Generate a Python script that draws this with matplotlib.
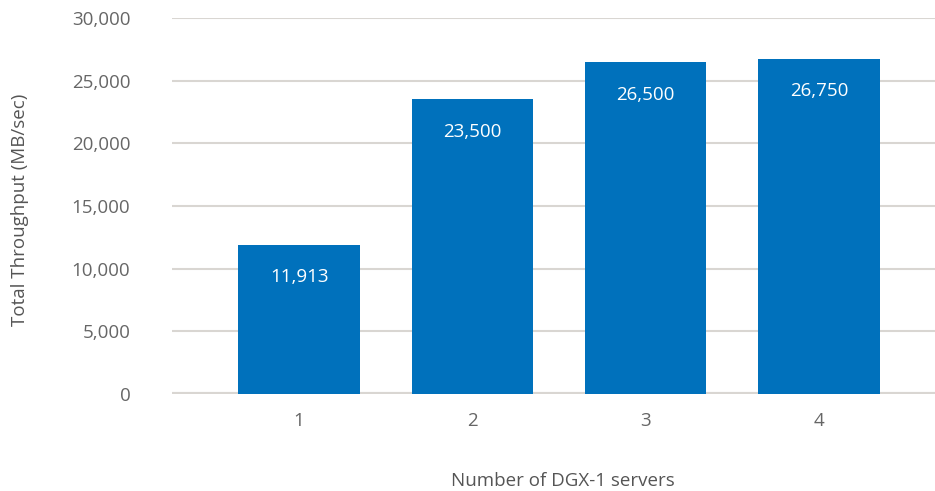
import matplotlib
matplotlib.use('Agg')
import matplotlib.pyplot as plt

# data
servers = ['1', '2', '3', '4']
throughput = [11913, 23500, 26500, 26750]
bar_labels = ['11,913', '23,500', '26,500', '26,750']
y_ticks = [0, 5000, 10000, 15000, 20000, 25000, 30000]
y_tick_labels = ['0', '5,000', '10,000', '15,000', '20,000', '25,000', '30,000']

plt.rcParams['font.family'] = ['Open Sans', 'DejaVu Sans']

fig = plt.figure(figsize=(9.35, 4.91), dpi=100)
ax = fig.add_axes([172 / 935, 1 - 394 / 491, 1 - 172 / 935, (394 - 18) / 491])

x = range(len(servers))
bars = ax.bar(x, throughput, width=0.70, color='#0071BC', zorder=3)

for b, lab in zip(bars, bar_labels):
    ax.annotate(lab, (b.get_x() + b.get_width() / 2, b.get_height()),
                xytext=(0, -23.5), textcoords='offset points',
                ha='center', va='center', color='white', fontsize=13.5, zorder=4)

ax.set_xlim(-0.733, 3.669)
ax.set_ylim(0, 30000)
ax.set_yticks(y_ticks)
ax.set_yticklabels(y_tick_labels)
ax.set_xticks(list(x))
ax.set_xticklabels(servers)

ax.grid(axis='y', color='#D9D6D2', linewidth=1.5, zorder=0)
ax.axhline(0, color='#D9D6D2', linewidth=3, zorder=2)
for s in ax.spines.values():
    s.set_visible(False)
ax.tick_params(axis='both', length=0, labelsize=13.5, colors='#666666')
ax.tick_params(axis='y', pad=30)
ax.tick_params(axis='x', pad=13)

fig.text(20 / 935, 1 - 210 / 491, 'Total Throughput (MB/sec)', rotation=90,
         ha='center', va='center', fontsize=13.5, color='#555555')
fig.text(563 / 935, 1 - 481 / 491, 'Number of DGX-1 servers',
         ha='center', va='center', fontsize=13.5, color='#555555')

fig.savefig('out.png', dpi=100)
